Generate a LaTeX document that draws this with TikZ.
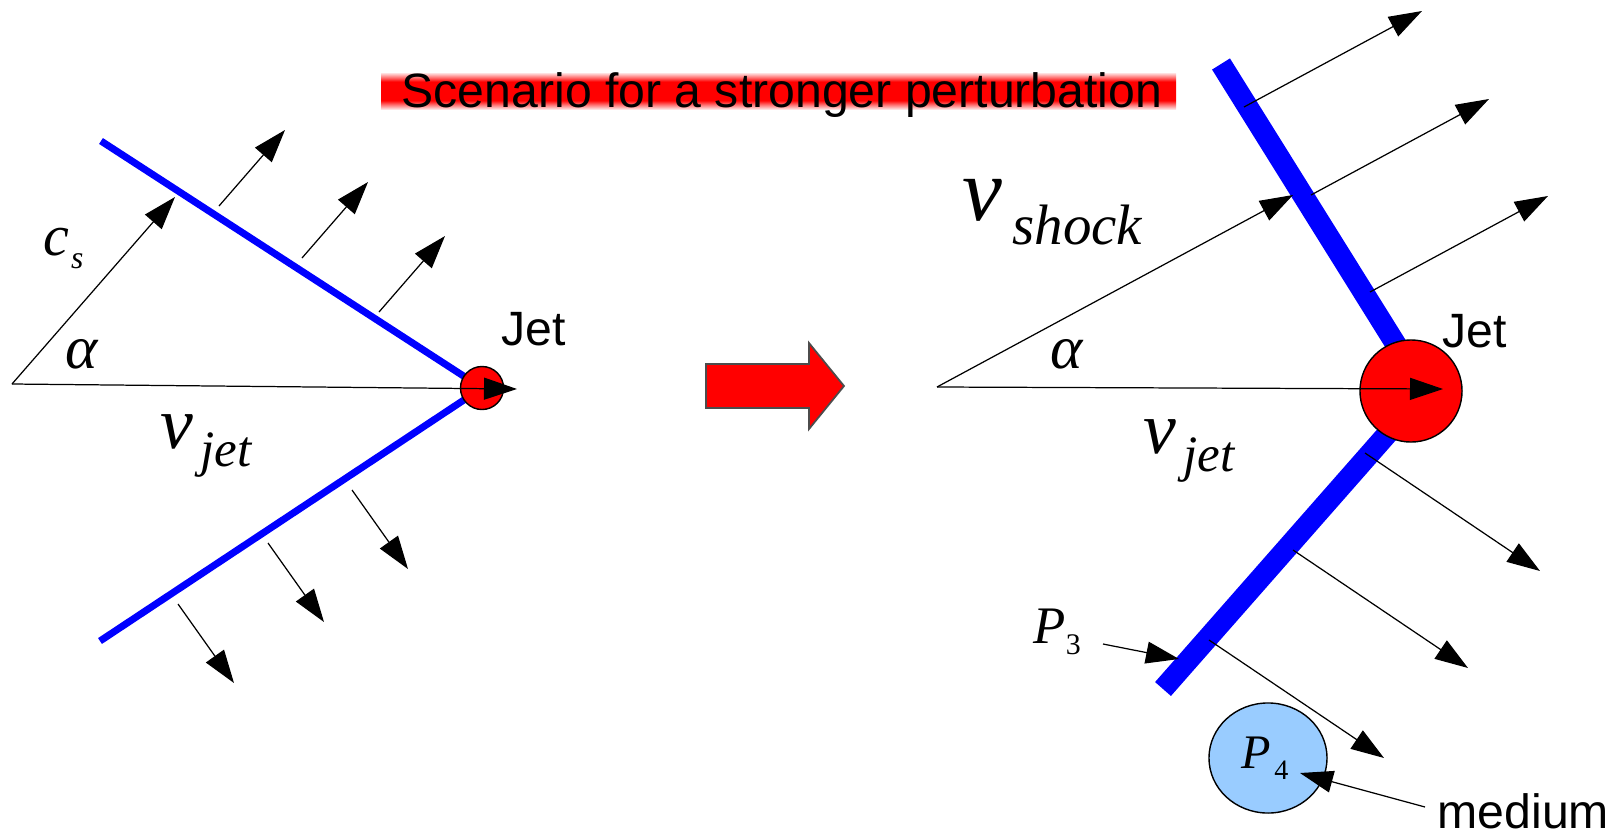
\documentclass[tikz,border=0pt]{standalone}
\usepackage{fontspec}
\setmainfont{Liberation Serif}
\setsansfont{Liberation Sans}
\usetikzlibrary{arrows.meta, shapes.geometric}

\definecolor{shockblue}{RGB}{0,0,255}
\definecolor{jetred}{RGB}{255,0,0}
\definecolor{mediumblue}{RGB}{153,204,255}

% soft red band behind the title
\pgfdeclareverticalshading{bannershade}{100bp}{color(0bp)=(red!12); color(25bp)=(red!12); color(31bp)=(red!55); color(37bp)=(red); color(63bp)=(red); color(69bp)=(red!55); color(75bp)=(red!12); color(100bp)=(red!12)}

\newcommand{\vjet}{{\fontsize{21}{21}\selectfont\itshape v}\hspace{2pt}\raisebox{-5.2pt}{\fontsize{14.5}{14.5}\selectfont\itshape jet}}

\begin{document}
\begin{tikzpicture}[x=0.01cm, y=-0.01cm,
  thinvec/.style={-{Triangle[length=0.33cm, width=0.22cm]}, line width=0.35pt},
  shockthin/.style={shockblue, line width=2pt},
  shockthick/.style={shockblue, line width=6pt},
  jetdot/.style={circle, draw=black, line width=0.4pt, fill=jetred, inner sep=0pt},
  sanslbl/.style={font=\sffamily\fontsize{13.7}{13.7}\selectfont, inner sep=0pt, anchor=base west},
  symlbl/.style={inner sep=0pt, anchor=base west}]
\useasboundingbox (0,0) rectangle (1612,833);

% title
\shade[shading=bannershade] (381,73) rectangle (1176,109);
\node[sanslbl] (title) at (401,107) {Scenario for a stronger perturbation};

% LEFT: weak perturbation, Mach cone with sound waves
\coordinate (apexL) at (12,384);
\coordinate (jetLc) at (482,388);
\draw[shockthin] (101,141) -- (jetLc) -- (100,641);
\node[jetdot, minimum size=0.43cm] (jetL) at (jetLc) {};
\draw[thinvec] (apexL) -- (517,389);
\draw[thinvec] (apexL) -- (175,197);
\foreach \sx/\sy in {219/206, 302/258, 379/312}{
  \draw[thinvec] (\sx,\sy) -- ++(66,-76);
}
\foreach \sx/\sy in {352/490, 268/543, 178/604}{
  \draw[thinvec] (\sx,\sy) -- ++(56,79);
}
\node[symlbl] (csL) at (43,255) {{\fontsize{16.5}{16.5}\selectfont\itshape c}\hspace{0.5pt}\raisebox{-3.8pt}{\fontsize{9}{9}\selectfont\itshape s}};
\node[symlbl] (alphaL) at (65,368) {\fontsize{17.5}{17.5}\selectfont\itshape α};
\node[symlbl] (vjetL) at (160,448) {\vjet};
\node[sanslbl] (jetlblL) at (501,345) {Jet};

% big red arrow
\draw[fill=jetred, draw=black!70, line width=0.5pt] (706,364) -- (809,364) -- (809,343) -- (844,386) -- (809,429) -- (809,408) -- (706,408) -- cycle;

% RIGHT: strong perturbation, thick shock front
\coordinate (apexR) at (937,387);
\coordinate (kinkR) at (1425,391);
\draw[shockthick] (1221,64) -- (kinkR) -- (1163,689);
\node[jetdot, minimum size=1.02cm] (jetR) at (1411,391) {};
\draw[thinvec] (apexR) -- (1443,389);
\draw[thinvec] (apexR) -- (1293,195);
\foreach \sx/\sy in {1244/107, 1311/195, 1370/292}{
  \draw[thinvec] (\sx,\sy) -- ++(178,-96);
}
\foreach \sx/\sy in {1365/453, 1293/550, 1209/640}{
  \draw[thinvec] (\sx,\sy) -- ++(175,118);
}
\node[ellipse, draw=black, line width=0.4pt, fill=mediumblue, minimum width=1.18cm, minimum height=1.10cm, inner sep=0pt] (medium) at (1268,758) {};
\node[symlbl] (P4) at (1241,768) {{\fontsize{13.7}{13.7}\selectfont\itshape P}\hspace{0.9pt}\raisebox{-3.4pt}{\fontsize{8}{8}\selectfont 4}};
\node[symlbl] (P3) at (1033,643) {{\fontsize{15}{15}\selectfont\itshape P}\raisebox{-3.4pt}{\fontsize{8.5}{8.5}\selectfont 3}};
\coordinate (P3tail) at (1103,644);
\coordinate (P3head) at (1179,659);
\draw[thinvec] (P3tail) -- (P3head);
\node[sanslbl] (mediumlbl) at (1437,828) {medium};
\coordinate (medtail) at (1425,807);
\coordinate (medhead) at (1300,773);
\draw[thinvec] (medtail) -- (medhead);
\node[symlbl] (vshock) at (962,220) {{\fontsize{25.5}{25.5}\selectfont\itshape v}\hspace{2.8pt}\raisebox{-7pt}{\fontsize{16.2}{16.2}\selectfont\itshape shock}};
\node[symlbl] (alphaR) at (1050,368) {\fontsize{17.5}{17.5}\selectfont\itshape α};
\node[symlbl] (vjetR) at (1143,453) {\vjet};
\node[sanslbl] (jetlblR) at (1442,347) {Jet};
\end{tikzpicture}
\end{document}
